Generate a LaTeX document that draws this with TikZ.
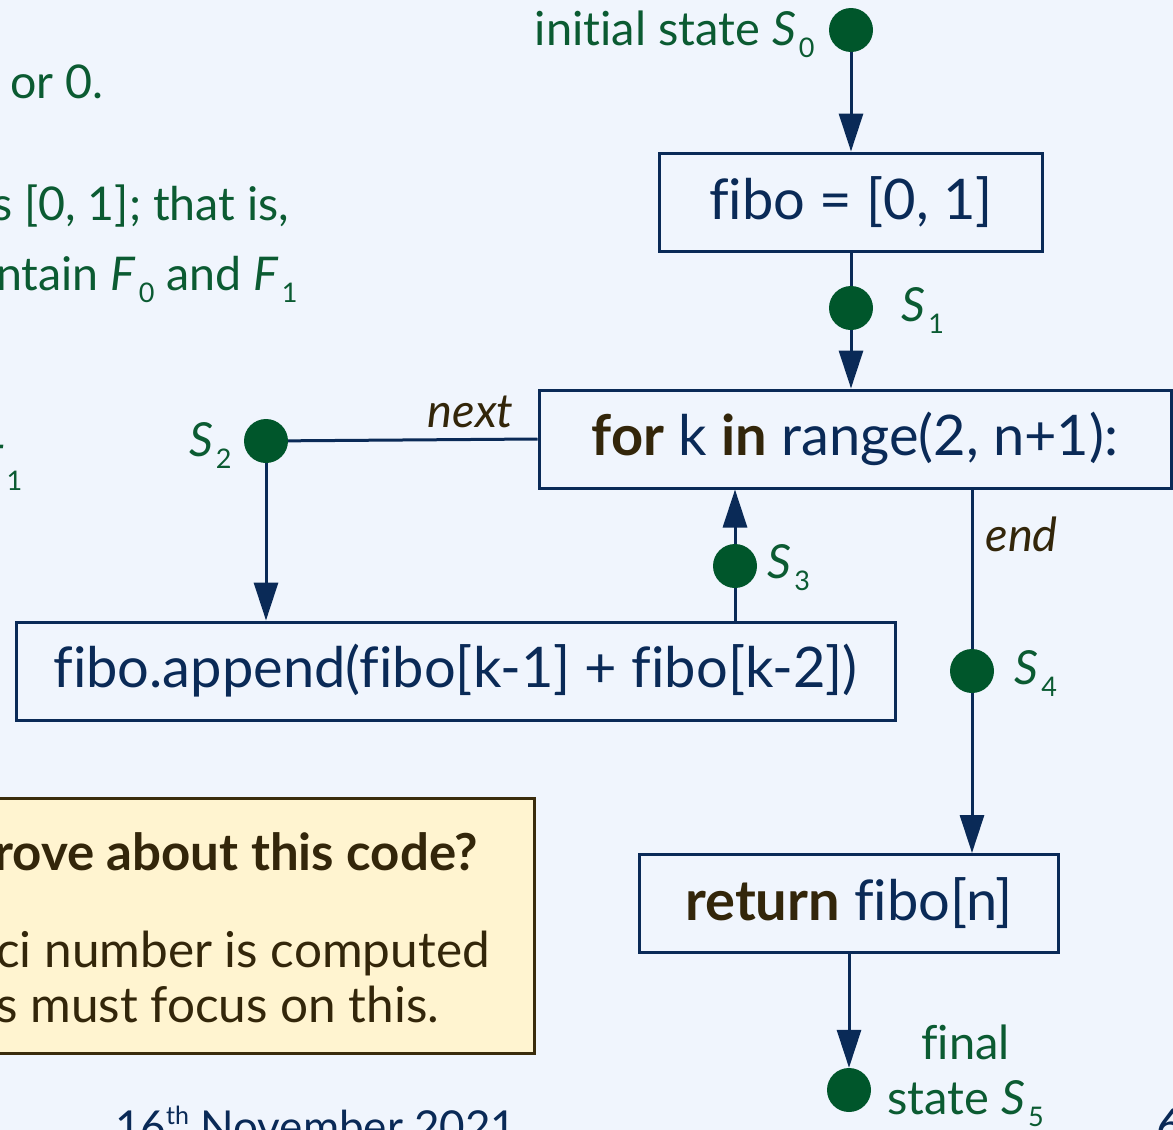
\documentclass[tikz,border=0pt]{standalone}
\usepackage{fontspec}
\setmainfont{Lato}[Ligatures=NoCommon]
\usetikzlibrary{arrows.meta}

\definecolor{bgc}{HTML}{F0F5FD}
\definecolor{navy}{HTML}{0A2A57}
\definecolor{sgreen}{HTML}{00562B}
\definecolor{tgreen}{HTML}{0B5B32}
\definecolor{kbrown}{HTML}{33260A}
\definecolor{notefill}{HTML}{FFF4D0}
\definecolor{noteline}{HTML}{3A2C0C}

% variable with a lowered upright index, e.g. S_0
\newcommand\vsub[2]{\textit{#1}\kern3pt\raisebox{-12pt}{\fontsize{27}{27}\selectfont #2}}
\newcommand\kw[1]{\textcolor{kbrown}{\bfseries #1}}

\begin{document}
\begin{tikzpicture}[x=1pt,y=-1pt,
  every node/.style={font=\fontsize{47}{55}\selectfont},
  stmt/.style={draw=navy, line width=3pt, rectangle, text=navy, inner sep=0pt,
               minimum height=98pt, font=\fontsize{56}{60}\selectfont},
  dot/.style={circle, fill=sgreen, minimum size=44pt, inner sep=0pt},
  slbl/.style={text=tgreen, inner sep=0pt},
  elbl/.style={text=kbrown, inner sep=0pt, font=\fontsize{47}{55}\selectfont\itshape},
  conn/.style={draw=navy, line width=3pt},
  arr/.style={conn, -{Triangle[length=38pt,width=24pt]}},
  prose/.style={text=tgreen, inner sep=0pt, anchor=base west, font=\fontsize{46.5}{55}\selectfont},
  notetext/.style={anchor=base west, inner sep=0pt, text=kbrown, font=\fontsize{49.5}{60}\selectfont},
]
\path[use as bounding box, fill=bgc] (0,0) rectangle (1173,1130);

% background prose on the left
\node[prose] (p1) at (10,98) {or 0.};
\node[prose] (p2) at (-8,220) {s [0, 1]; that is,};
\node[prose] (p3) at (-4,290) {ntain \vsub{F}{0} and \vsub{F}{1}};
\node[prose] (p4) at (-22,478) {\vsub{F}{1}};

% note box
\draw[fill=notefill, draw=noteline, line width=3pt] (-10,798) rectangle (534,1053);
\node[notetext, font=\fontsize{51}{60}\selectfont\bfseries] (q1) at (-6,870) {rove about this code?};
\node[notetext] (q2) at (-4,967) {ci number is computed};
\node[notetext] (q3) at (-4,1022) {s must focus on this.};

% footer
\node[anchor=base west, inner sep=0pt, text=navy, font=\fontsize{44}{55}\selectfont] (date) at (115,1142) {16\raisebox{18pt}{\fontsize{25}{25}\selectfont th} November 2021};
\node[anchor=base west, inner sep=0pt, text=navy] (page) at (1156,1142) {6};

% flow chart
\node[stmt, minimum width=383pt] (init) at (851,202) {fibo = [0, 1]};
\node[stmt, minimum width=632pt] (loop) at (855,439) {\kw{for} k \kw{in} range(2, n+1):};
\node[stmt, minimum width=879pt] (body) at (455.5,671) {fibo.append(fibo[k-1] + fibo[k-2])};
\node[stmt, minimum width=419pt] (ret) at (849,903.5) {\kw{return} fibo[n]};

\node[dot] (s0) at (851,30) {};
\node[dot] (s1) at (851,308) {};
\node[dot] (s2) at (266,441) {};
\node[dot] (s3) at (735,566) {};
\node[dot] (s4) at (972,671) {};
\node[dot] (s5) at (849,1090) {};

\draw[arr] (s0) -- (init);
\draw[conn] (init) -- (s1);
\draw[arr] (s1) -- (s1 |- loop.north);
\draw[conn] (loop.west) -- node[elbl, anchor=south east, pos=0.09, yshift=10pt] (nxt) {next} (s2);
\draw[arr] (s2) -- (s2 |- body.north);
\draw[conn] (s3 |- body.north) -- (s3);
\draw[arr] (s3) -- (s3 |- loop.south);
\draw[conn] (s4 |- loop.south) -- node[elbl, anchor=west, xshift=12pt, pos=0.28] (endl) {end} (s4);
\draw[arr] (s4) -- (s4 |- ret.north);
\draw[arr] (ret) -- (s5);

% state labels
\node[slbl, anchor=east, xshift=-14pt, yshift=-4pt] (l0) at (s0.west) {initial state \vsub{S}{0}};
\node[slbl, anchor=west, xshift=28pt, yshift=-2pt] (l1) at (s1.east) {\vsub{S}{1}};
\node[slbl, anchor=east, xshift=-12pt, yshift=-4pt] (l2) at (s2.west) {\vsub{S}{2}};
\node[slbl, anchor=west, xshift=10pt, yshift=-2pt] (l3) at (s3.east) {\vsub{S}{3}};
\node[slbl, anchor=west, xshift=20pt, yshift=-2pt] (l4) at (s4.east) {\vsub{S}{4}};
\node[slbl, anchor=west, xshift=16pt, align=center, yshift=14pt] (l5) at (s5.east) {final\\state \vsub{S}{5}};
\end{tikzpicture}
\end{document}
